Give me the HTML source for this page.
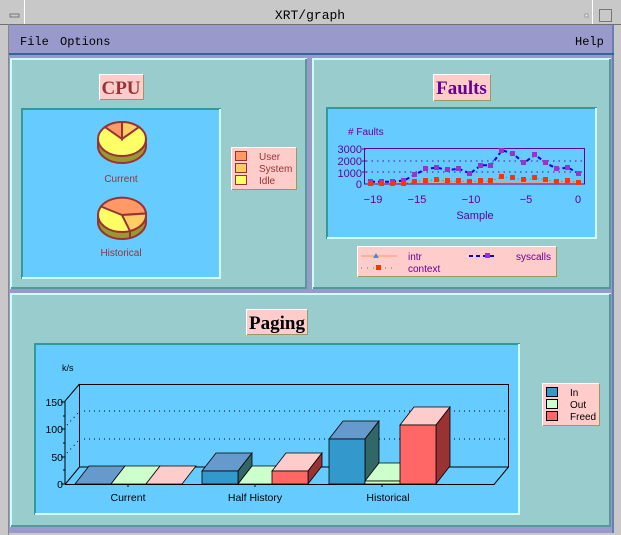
<!DOCTYPE html>
<html><head><meta charset="utf-8"><style>
html,body{margin:0;padding:0;width:621px;height:535px;overflow:hidden;background:#c8c8c8}
svg{display:block;font-family:"Liberation Sans",sans-serif}
.serif{font-family:"Liberation Serif",serif}
.mono{font-family:"Liberation Mono",monospace}
</style></head><body>
<svg width="621" height="535" viewBox="0 0 621 535" xmlns="http://www.w3.org/2000/svg">
<rect x="0" y="0" width="621" height="535" fill="#c8c8c8"/>
<line x1="0" y1="24.5" x2="621" y2="24.5" stroke="#707070"/>
<line x1="24.5" y1="0" x2="24.5" y2="24" stroke="#fff"/>
<line x1="8.5" y1="24" x2="8.5" y2="535" stroke="#888"/>
<rect x="10" y="14" width="9" height="3" fill="#c8c8c8" stroke="#666" stroke-width="0.8"/>
<line x1="592.5" y1="0" x2="592.5" y2="24" stroke="#fff"/>
<rect x="585" y="14" width="3" height="3" fill="#eee" stroke="#777" stroke-width="0.6"/>
<rect x="599.5" y="9.5" width="12" height="12" fill="none" stroke="#777"/>
<text x="310" y="19" font-size="13" text-anchor="middle" class="mono" fill="#000">XRT/graph</text>
<rect x="9" y="25" width="605" height="508" fill="#9999cc"/>
<line x1="9" y1="54" x2="614" y2="54" stroke="#336699" stroke-width="2"/>
<line x1="613" y1="25" x2="613" y2="533" stroke="#336699" stroke-width="1"/>
<text x="20" y="45" font-size="12" class="mono" fill="#000">File</text>
<text x="60" y="45" font-size="12" class="mono" fill="#000">Options</text>
<text x="575" y="45" font-size="12" class="mono" fill="#000">Help</text>

<g stroke-width="2">
<rect x="10" y="58" width="297" height="231" fill="#99cccc"/>
<path d="M11 289 V59 H307" fill="none" stroke="#ccffff"/>
<path d="M11 288 H306 V59" fill="none" stroke="#559999"/>
<rect x="312" y="58" width="299" height="231" fill="#99cccc"/>
<path d="M313 289 V59 H611" fill="none" stroke="#ccffff"/>
<path d="M313 288 H610 V59" fill="none" stroke="#559999"/>
<rect x="10" y="293" width="601" height="234" fill="#99cccc"/>
<path d="M11 527 V294 H611" fill="none" stroke="#ccffff"/>
<path d="M11 526 H610 V294" fill="none" stroke="#559999"/>
</g>

<rect x="99" y="74" width="44" height="26" fill="#ffcccc"/>
<path d="M99.5 100 V74.5 H143" fill="none" stroke="#fff"/>
<path d="M100 99.5 H143.5 V75" fill="none" stroke="#999966"/>
<text x="121" y="94" font-size="19" font-weight="bold" text-anchor="middle" class="serif" fill="#993333">CPU</text>
<rect x="21" y="108" width="200" height="171" fill="#66ccff"/>
<path d="M22 279 V109 H221" fill="none" stroke="#339999" stroke-width="2"/>
<path d="M22 278 H220 V109" fill="none" stroke="#ccffff" stroke-width="2"/>
<g stroke="#993333" stroke-width="2">
<path d="M98 139 V146 A24 17 0 0 0 146 146 V139 Z" fill="#999933"/>
<ellipse cx="122" cy="139" rx="24" ry="17" fill="#ffff66"/>
<path d="M122 139 L122 122 A24 17 0 0 0 105 127 Z" fill="#ff9966"/>
<path d="M122 139 L139 127 A24 17 0 0 0 122 122 Z" fill="#ffcc66"/>
</g>
<text x="121" y="182" font-size="10" text-anchor="middle" fill="#993333">Current</text>
<g stroke="#993333" stroke-width="2">
<path d="M98 215 V222 A24 17 0 0 0 146 222 V215 Z" fill="#999933"/>
<ellipse cx="122" cy="215" rx="24" ry="17" fill="#ffff66"/>
<path d="M122 215 L101 206.5 A24 17 0 0 1 146 213.5 Z" fill="#ff9966"/>
<path d="M122 215 L146 213.5 A24 17 0 0 1 130 231 Z" fill="#ffcc66"/>
<line x1="130" y1="231" x2="130" y2="238"/>
</g>
<text x="121" y="256" font-size="10" text-anchor="middle" fill="#993333">Historical</text>
<rect x="231" y="147" width="65" height="43" fill="#ffcccc"/>
<path d="M231.5 190 V147.5 H296" fill="none" stroke="#fff"/>
<path d="M232 189.5 H296.5 V148" fill="none" stroke="#999966"/>
<g stroke="#993333" stroke-width="1">
<rect x="235.5" y="151.5" width="11" height="9" fill="#ff9966"/>
<rect x="235.5" y="163.5" width="11" height="9" fill="#ffcc66"/>
<rect x="235.5" y="175.5" width="11" height="9" fill="#ffff66"/>
</g>
<g font-size="10" fill="#993333">
<text x="259" y="160">User</text><text x="259" y="172">System</text><text x="259" y="184">Idle</text>
</g>

<rect x="433" y="74" width="57" height="27" fill="#ffcccc"/>
<path d="M433.5 101 V74.5 H490" fill="none" stroke="#fff"/>
<path d="M434 100.5 H490.5 V75" fill="none" stroke="#999966"/>
<text x="461.5" y="94" font-size="19" font-weight="bold" text-anchor="middle" class="serif" fill="#660099">Faults</text>
<rect x="326" y="107" width="271" height="132" fill="#66ccff"/>
<path d="M327 239 V108 H597" fill="none" stroke="#339999" stroke-width="2"/>
<path d="M327 238 H596 V108" fill="none" stroke="#ccffff" stroke-width="2"/>
<text x="348" y="135" font-size="10" fill="#660099"># Faults</text>
<g stroke="#660099" fill="none">
<rect x="364.5" y="148.5" width="220" height="35.5"/>
<line x1="362" y1="149" x2="366" y2="149"/><line x1="362" y1="161" x2="366" y2="161"/><line x1="362" y1="172" x2="366" y2="172"/>
<line x1="366" y1="161" x2="584" y2="161" stroke-dasharray="1.5 4"/>
<line x1="366" y1="172" x2="584" y2="172" stroke-dasharray="1.5 4"/>
</g>
<g font-size="11" fill="#660099" text-anchor="end">
<text x="362" y="153">3000</text><text x="362" y="165">2000</text><text x="362" y="177">1000</text><text x="362" y="188">0</text>
</g>
<g font-size="11" fill="#660099" text-anchor="middle">
<text x="373" y="203">−19</text><text x="417" y="203">−15</text><text x="471" y="203">−10</text><text x="526" y="203">−5</text><text x="578" y="203">0</text>
<text x="475" y="219">Sample</text>
</g>
<polyline points="371,182.8 579,182.8" stroke="#ff9966" fill="none"/>
<polyline points="371,184 382,183.4 393,183.4 404,183.4 415,181.7 426,180.5 437,179.9 448,181.1 459,181.1 470,181.7 481,181.1 491,181.1 502,177 513,178.2 524,179.9 535,178.2 546,179.9 557,181.7 568,181.1 579,182.2" stroke="#339933" fill="none" stroke-dasharray="1 3"/>
<polyline points="371,181.7 382,181.7 393,181.7 404,180.5 415,174.7 426,168.8 437,167.7 448,170 459,168.8 470,173.5 481,165.3 491,165.3 502,150.2 513,153.7 524,163 535,154.8 546,163 557,168.8 568,167.7 579,173.5" stroke="#0000ff" stroke-width="2" fill="none" stroke-dasharray="4 3"/>
<g fill="#9933cc">
<rect x="368" y="179" width="5" height="5"/><rect x="379" y="179" width="5" height="5"/><rect x="390" y="179" width="5" height="5"/><rect x="401" y="178" width="5" height="5"/><rect x="412" y="172" width="5" height="5"/><rect x="423" y="166" width="5" height="5"/><rect x="434" y="165" width="5" height="5"/><rect x="445" y="167" width="5" height="5"/><rect x="456" y="166" width="5" height="5"/><rect x="467" y="171" width="5" height="5"/><rect x="478" y="163" width="5" height="5"/><rect x="488" y="163" width="5" height="5"/><rect x="499" y="148" width="5" height="5"/><rect x="510" y="151" width="5" height="5"/><rect x="521" y="160" width="5" height="5"/><rect x="532" y="152" width="5" height="5"/><rect x="543" y="160" width="5" height="5"/><rect x="554" y="166" width="5" height="5"/><rect x="565" y="165" width="5" height="5"/><rect x="576" y="171" width="5" height="5"/>
</g>
<g fill="#ff3300">
<rect x="368" y="181" width="5" height="5"/><rect x="379" y="181" width="5" height="5"/><rect x="390" y="181" width="5" height="5"/><rect x="401" y="181" width="5" height="5"/><rect x="412" y="179" width="5" height="5"/><rect x="423" y="178" width="5" height="5"/><rect x="434" y="177" width="5" height="5"/><rect x="445" y="178" width="5" height="5"/><rect x="456" y="178" width="5" height="5"/><rect x="467" y="179" width="5" height="5"/><rect x="478" y="178" width="5" height="5"/><rect x="488" y="178" width="5" height="5"/><rect x="499" y="174" width="5" height="5"/><rect x="510" y="175" width="5" height="5"/><rect x="521" y="177" width="5" height="5"/><rect x="532" y="175" width="5" height="5"/><rect x="543" y="177" width="5" height="5"/><rect x="554" y="179" width="5" height="5"/><rect x="565" y="178" width="5" height="5"/><rect x="576" y="180" width="5" height="5"/>
</g>
<rect x="357" y="246" width="199" height="31" fill="#ffcccc"/>
<path d="M357.5 277 V246.5 H556" fill="none" stroke="#fff"/>
<path d="M358 276.5 H556.5 V247" fill="none" stroke="#999966"/>
<line x1="361" y1="256" x2="397" y2="256" stroke="#ff9966"/>
<path d="M376 253 L379 258 L373 258 Z" fill="#3399cc"/>
<line x1="361" y1="268" x2="394" y2="268" stroke="#339933" stroke-dasharray="1 5"/>
<rect x="376" y="265" width="5" height="5" fill="#ff3300"/>
<line x1="469" y1="256" x2="496" y2="256" stroke="#0000ff" stroke-width="2" stroke-dasharray="4 3"/>
<rect x="485" y="253" width="5" height="5" fill="#9933cc"/>
<g font-size="10" fill="#660099">
<text x="408" y="260">intr</text><text x="408" y="272">context</text><text x="516" y="260">syscalls</text>
</g>

<rect x="246" y="309" width="61" height="26" fill="#ffcccc"/>
<path d="M246.5 335 V309.5 H307" fill="none" stroke="#fff"/>
<path d="M247 334.5 H307.5 V310" fill="none" stroke="#999966"/>
<text x="277" y="329" font-size="19" font-weight="bold" text-anchor="middle" class="serif" fill="#000">Paging</text>
<rect x="34" y="343" width="486" height="172" fill="#66ccff"/>
<path d="M35 515 V344 H520" fill="none" stroke="#339999" stroke-width="2"/>
<path d="M35 514 H519 V344" fill="none" stroke="#ccffff" stroke-width="2"/>
<text x="62" y="371" font-size="9" fill="#000">k/s</text>
<g stroke="#000" fill="none" stroke-width="1">
<path d="M79.5 467 V384.5 H508.5 V467 Z"/>
<path d="M65 484.5 H494 L508.5 467"/>
<path d="M65 484.5 L79.5 467"/>
<path d="M65 484 V401 L79.5 384"/>
<line x1="61" y1="402" x2="65" y2="402"/><line x1="61" y1="429" x2="65" y2="429"/><line x1="61" y1="457" x2="65" y2="457"/><line x1="61" y1="484" x2="65" y2="484"/>
<line x1="63" y1="416" x2="65" y2="416"/><line x1="63" y1="443" x2="65" y2="443"/><line x1="63" y1="470" x2="65" y2="470"/>
<line x1="84" y1="411" x2="508" y2="411" stroke-dasharray="1 4"/>
<line x1="84" y1="439" x2="508" y2="439" stroke-dasharray="1 4"/>
<line x1="67" y1="425" x2="78" y2="413" stroke-dasharray="1 4"/>
<line x1="67" y1="453" x2="78" y2="441" stroke-dasharray="1 4"/>
<line x1="128" y1="484" x2="128" y2="487"/><line x1="255" y1="484" x2="255" y2="487"/><line x1="382" y1="484" x2="382" y2="487"/>
</g>
<g font-size="10.5" fill="#000" text-anchor="end">
<text x="63" y="406">150</text><text x="63" y="433">100</text><text x="63" y="461">50</text><text x="63" y="488">0</text>
</g>
<g font-size="10.5" fill="#000" text-anchor="middle">
<text x="128" y="501">Current</text><text x="255" y="501">Half History</text><text x="388" y="501">Historical</text>
</g>
<g stroke="#000" stroke-width="0.8">
<path d="M75 484 L89 466 H125 L111 484 Z" fill="#6699cc"/>
<path d="M111 484 L125 466 H160 L146 484 Z" fill="#ccffcc"/>
<path d="M146 484 L160 466 H196 L182 484 Z" fill="#ffcccc"/>
<path d="M202 471 L216 453 H252 L238 471 Z" fill="#6699cc"/>
<path d="M238 471 L252 453 V466 L238 484 Z" fill="#336666"/>
<rect x="202" y="471" width="36" height="13" fill="#3399cc"/>
<path d="M238 484 L252 466 H286 L272 484 Z" fill="#ccffcc"/>
<path d="M272 471 L286 453 H322 L308 471 Z" fill="#ffcccc"/>
<path d="M308 471 L322 453 V466 L308 484 Z" fill="#993333"/>
<rect x="272" y="471" width="36" height="13" fill="#ff6666"/>
<path d="M329 439 L343 421 H379 L365 439 Z" fill="#6699cc"/>
<path d="M365 439 L379 421 V466 L365 484 Z" fill="#336666"/>
<rect x="329" y="439" width="36" height="45" fill="#3399cc"/>
<path d="M365 481 L379 463 H414 L400 481 Z" fill="#ccffcc"/>
<rect x="365" y="481" width="35" height="3" fill="#ccffcc"/>
<path d="M400 425 L414 407 H450 L436 425 Z" fill="#ffcccc"/>
<path d="M436 425 L450 407 V466 L436 484 Z" fill="#993333"/>
<rect x="400" y="425" width="36" height="59" fill="#ff6666"/>
</g>
<rect x="542" y="383" width="57" height="43" fill="#ffcccc"/>
<path d="M542.5 426 V383.5 H599" fill="none" stroke="#fff"/>
<path d="M543 425.5 H599.5 V384" fill="none" stroke="#999966"/>
<g stroke="#000" stroke-width="1">
<rect x="546.5" y="387.5" width="11" height="9" fill="#3399cc"/>
<rect x="546.5" y="399.5" width="11" height="9" fill="#ccffcc"/>
<rect x="546.5" y="411.5" width="11" height="9" fill="#ff6666"/>
</g>
<g font-size="10" fill="#000">
<text x="570" y="396">In</text><text x="570" y="408">Out</text><text x="570" y="420">Freed</text>
</g>
</svg>
</body></html>
